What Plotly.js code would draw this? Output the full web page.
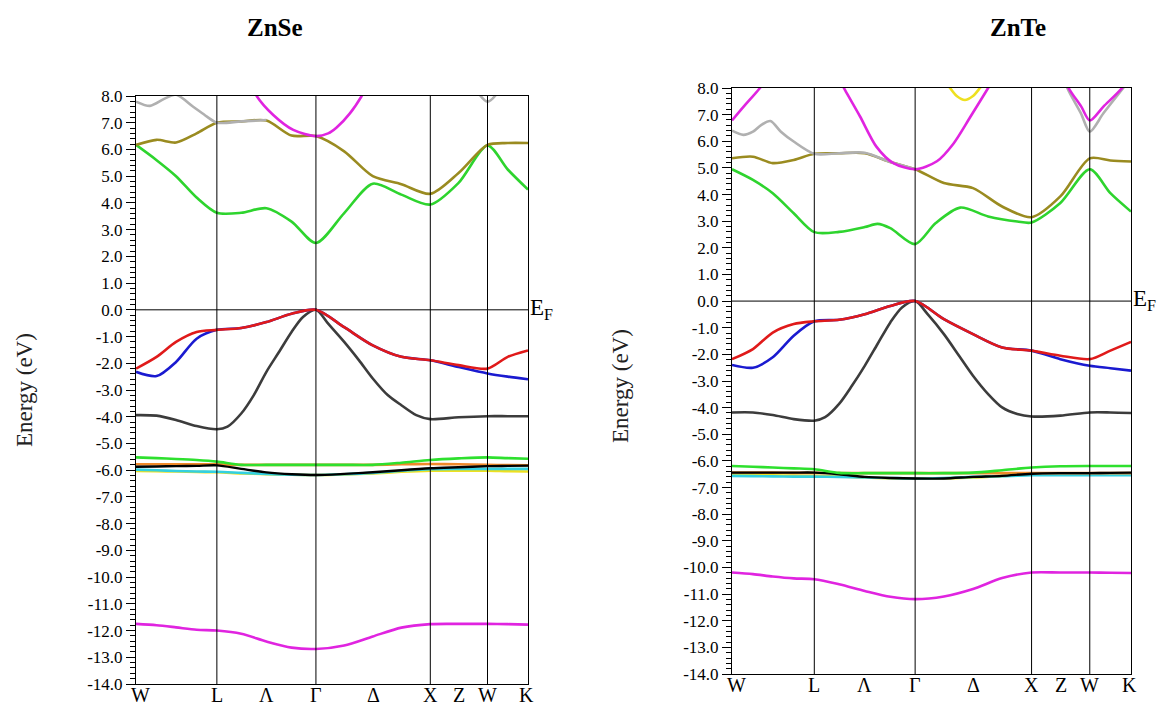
<!DOCTYPE html>
<html>
<head>
<meta charset="utf-8">
<script src="https://cdn.plot.ly/plotly-3.0.1.min.js"></script>
<style>html,body{margin:0;padding:0;background:#fff;}#chart{width:1167px;height:708px;}</style>
</head>
<body>
<div id="chart"></div>
<script>
// ---------- k-path (distance in 2π/a units) ----------
const symLabels = ["W", "L", "Λ", "Γ", "Δ", "X", "Z", "W", "K"];
const symPos = [0, 0.707, 1.14, 1.573, 2.073, 2.573, 2.823, 3.073, 3.427];
const linePos = [0.707, 1.573, 2.573, 3.073];
const kGrid = [0, 0.18, 0.35, 0.53, 0.707, 0.92, 1.14, 1.36, 1.573, 1.82, 2.07, 2.32, 2.573, 2.82, 3.073, 3.25, 3.427];
const kDense = [0, 0.18, 0.35, 0.53, 0.707, 0.8, 0.92, 1.03, 1.14, 1.25, 1.36, 1.46, 1.573, 1.68, 1.82, 1.95, 2.07, 2.2, 2.32, 2.45, 2.573, 2.82, 3.073, 3.25, 3.427];
const yTickVals = [8, 7, 6, 5, 4, 3, 2, 1, 0, -1, -2, -3, -4, -5, -6, -7, -8, -9, -10, -11, -12, -13, -14];
const yTickText = ["8.0", "7.0", "6.0", "5.0", "4.0", "3.0", "2.0", "1.0", "0.0", "-1.0", "-2.0", "-3.0", "-4.0", "-5.0", "-6.0", "-7.0", "-8.0", "-9.0", "-10.0", "-11.0", "-12.0", "-13.0", "-14.0"];

// ---------- ZnSe ----------
const znse_s = [-11.75, -11.8, -11.88, -11.97, -12.0, -12.12, -12.41, -12.64, -12.69, -12.56, -12.22, -11.89, -11.76, -11.75, -11.75, -11.76, -11.78];
const znse_dYellow = [-6.03, -6.04, -6.05, -6.07, -6.08, -6.12, -6.15, -6.17, -6.18, -6.16, -6.12, -6.06, -6.02, -6.02, -6.02, -6.04, -6.05];
const znse_dCyan = [-5.98, -6.0, -6.03, -6.05, -6.06, -6.1, -6.14, -6.17, -6.18, -6.15, -6.1, -6.02, -5.96, -5.95, -5.95, -5.95, -5.95];
const znse_dOrange = [-5.78, -5.78, -5.78, -5.78, -5.78, -5.8, -5.8, -5.8, -5.8, -5.8, -5.8, -5.78, -5.77, -5.78, -5.8, -5.81, -5.82];
const znse_dBlack = [-5.87, -5.86, -5.85, -5.84, -5.82, -5.95, -6.08, -6.15, -6.18, -6.14, -6.08, -6.0, -5.93, -5.89, -5.85, -5.84, -5.83];
const znse_dGreen = [-5.52, -5.55, -5.58, -5.62, -5.68, -5.8, -5.8, -5.8, -5.8, -5.8, -5.8, -5.72, -5.62, -5.56, -5.52, -5.55, -5.57];
const znse_v3 = [-3.94, -3.96, -4.12, -4.35, -4.47, -4.37, -3.88, -3.19, -2.32, -1.58, -0.83, -0.27, 0, -0.52, -1.2, -1.89, -2.57, -3.19, -3.57, -3.94, -4.09, -4.02, -3.98, -3.98, -3.98];
const znse_v2 = [-2.32, -2.48, -1.95, -1.08, -0.75, -0.68, -0.46, -0.15, 0, -0.65, -1.33, -1.76, -1.89, -2.14, -2.38, -2.5, -2.6];
const znse_v1 = [-2.2, -1.76, -1.2, -0.83, -0.75, -0.68, -0.46, -0.15, 0, -0.65, -1.33, -1.76, -1.89, -2.07, -2.2, -1.76, -1.52];
const znse_c1 = [6.17, 5.6, 5.0, 4.2, 3.63, 3.63, 3.8, 3.3, 2.5, 3.62, 4.72, 4.31, 3.94, 4.75, 6.15, 5.25, 4.5];
const znse_c2 = [6.17, 6.36, 6.26, 6.6, 7.0, 7.05, 7.08, 6.52, 6.5, 5.93, 5.0, 4.7, 4.34, 5.12, 6.17, 6.24, 6.24];
const znse_c3K = [0, 0.122, 0.25, 0.35, 0.5, 0.62, 0.707, 0.92, 1.14, null, 2.98, 3.013, 3.073, 3.138, 3.17];
const znse_c3 = [7.79, 7.63, 7.9, 8.05, 7.6, 7.23, 7.0, 7.05, 7.1, null, 8.3, 8.0, 7.79, 8.0, 8.3];
const znse_c4K = [0.95, 1.055, 1.2, 1.375, 1.573, 1.68, 1.754, 1.87, 1.973, 2.07];
const znse_c4 = [9.0, 8.0, 7.29, 6.73, 6.5, 6.6, 6.82, 7.35, 8.0, 8.8];

// ---------- ZnTe ----------
const znte_s = [-10.19, -10.25, -10.34, -10.41, -10.44, -10.63, -10.88, -11.1, -11.19, -11.09, -10.81, -10.4, -10.19, -10.19, -10.19, -10.2, -10.21];
const znte_dYellow = [-6.52, -6.53, -6.54, -6.55, -6.56, -6.58, -6.62, -6.65, -6.66, -6.65, -6.62, -6.56, -6.5, -6.5, -6.5, -6.5, -6.5];
const znte_dCyan = [-6.56, -6.57, -6.58, -6.59, -6.59, -6.6, -6.62, -6.64, -6.66, -6.64, -6.6, -6.57, -6.54, -6.54, -6.54, -6.54, -6.54];
const znte_dOrange = [-6.44, -6.44, -6.44, -6.45, -6.45, -6.46, -6.46, -6.46, -6.46, -6.46, -6.46, -6.46, -6.46, -6.46, -6.46, -6.46, -6.46];
const znte_dBlack = [-6.44, -6.44, -6.44, -6.44, -6.44, -6.5, -6.6, -6.64, -6.66, -6.66, -6.6, -6.56, -6.48, -6.46, -6.46, -6.45, -6.44];
const znte_dGreen = [-6.19, -6.22, -6.25, -6.28, -6.31, -6.45, -6.46, -6.46, -6.46, -6.46, -6.44, -6.35, -6.25, -6.2, -6.19, -6.19, -6.19];
const znte_v3 = [-4.18, -4.18, -4.28, -4.43, -4.49, -4.36, -3.86, -3.18, -2.43, -1.61, -0.8, -0.24, 0, -0.49, -1.24, -2.05, -2.8, -3.49, -3.99, -4.24, -4.33, -4.3, -4.18, -4.18, -4.2];
const znte_v2 = [-2.4, -2.5, -2.11, -1.3, -0.76, -0.7, -0.49, -0.18, 0, -0.68, -1.24, -1.74, -1.86, -2.18, -2.43, -2.52, -2.61];
const znte_v1 = [-2.18, -1.8, -1.18, -0.86, -0.76, -0.7, -0.49, -0.18, 0, -0.68, -1.24, -1.74, -1.86, -2.05, -2.18, -1.86, -1.53];
const znte_c1K = [0, 0.18, 0.35, 0.53, 0.707, 0.92, 1.14, 1.25, 1.36, 1.573, 1.75, 1.96, 2.2, 2.45, 2.573, 2.82, 3.073, 3.25, 3.427];
const znte_c1 = [4.95, 4.55, 4.05, 3.3, 2.59, 2.6, 2.78, 2.9, 2.74, 2.14, 2.93, 3.51, 3.18, 2.99, 2.95, 3.68, 4.95, 4.05, 3.36];
const znte_c2 = [5.36, 5.42, 5.18, 5.3, 5.53, 5.55, 5.55, 5.22, 4.95, 4.43, 4.24, 3.55, 3.15, 3.93, 5.36, 5.28, 5.24];
const znte_c3K = [0, 0.097, 0.18, 0.25, 0.33, 0.42, 0.53, 0.707, 0.92, 1.14, 1.36, 1.573, null, 2.82, 2.88, 2.997, 3.073, 3.19, 3.36, 3.427];
const znte_c3 = [6.4, 6.24, 6.36, 6.61, 6.76, 6.36, 5.99, 5.53, 5.55, 5.57, 5.22, 4.95, null, 8.8, 8.0, 7.05, 6.36, 7.05, 8.0, 8.4];
const znte_c4K = [0, 0.1, 0.24, 0.3, null, 0.9, 0.97, 1.1, 1.24, 1.386, 1.573, 1.76, 1.9, 2.045, 2.2, 2.27, null, 2.82, 2.9, 3.0, 3.073, 3.19, 3.35, 3.42];
const znte_c4 = [6.78, 7.3, 8.0, 8.4, null, 8.5, 7.93, 6.93, 5.8, 5.18, 4.95, 5.25, 5.9, 6.9, 8.0, 8.5, null, 8.6, 7.93, 7.3, 6.78, 7.3, 8.0, 8.5];
const znte_c5K = [1.85, 1.873, 1.93, 2.0, 2.07, 2.13, 2.16];
const znte_c5 = [8.15, 8.0, 7.7, 7.55, 7.7, 8.0, 8.15];

// ---------- colours ----------
const C = {
  s: "#e024e0", dYellow: "#eee020", dCyan: "#33d0e0", dOrange: "#f08a2a", dBlack: "#000000",
  dGreen: "#2ee02e", v3: "#3c3c3c", v2: "#1a1ad0", v1: "#e01a1a", c1: "#2ed42e", c2: "#9a8b20",
  c3: "#b0b0b0", c4: "#e024e0", c5: "#eee020"
};

function band(x, y, color, xa, ya, w) {
  return { type: "scatter", mode: "lines", x: x, y: y, xaxis: xa, yaxis: ya,
    line: { color: color, width: w || 2.6, shape: "spline", smoothing: 0.8 },
    connectgaps: false, hoverinfo: "skip", showlegend: false };
}

function panel(d, xa, ya) {
  return [
    band(kGrid, d.s, C.s, xa, ya),
    band(kGrid, d.dYellow, C.dYellow, xa, ya),
    band(kGrid, d.dCyan, C.dCyan, xa, ya),
    band(kGrid, d.dOrange, C.dOrange, xa, ya),
    band(kGrid, d.dBlack, C.dBlack, xa, ya, 2.4),
    band(kGrid, d.dGreen, C.dGreen, xa, ya),
    band(kDense, d.v3, C.v3, xa, ya),
    band(kGrid, d.v2, C.v2, xa, ya),
    band(kGrid, d.v1, C.v1, xa, ya),
    band(d.c1K || kGrid, d.c1, C.c1, xa, ya),
    band(kGrid, d.c2, C.c2, xa, ya),
    band(d.c3K, d.c3, C.c3, xa, ya),
    band(d.c4K, d.c4, C.c4, xa, ya)
  ].concat(d.c5 ? [band(d.c5K, d.c5, C.c5, xa, ya)] : []);
}

const traces = panel({ s: znse_s, dYellow: znse_dYellow, dCyan: znse_dCyan, dOrange: znse_dOrange,
  dBlack: znse_dBlack, dGreen: znse_dGreen, v3: znse_v3, v2: znse_v2, v1: znse_v1,
  c1: znse_c1, c2: znse_c2, c3K: znse_c3K, c3: znse_c3, c4K: znse_c4K, c4: znse_c4 }, "x", "y")
  .concat(panel({ s: znte_s, dYellow: znte_dYellow, dCyan: znte_dCyan, dOrange: znte_dOrange,
  dBlack: znte_dBlack, dGreen: znte_dGreen, v3: znte_v3, v2: znte_v2, v1: znte_v1,
  c1K: znte_c1K, c1: znte_c1, c2: znte_c2, c3K: znte_c3K, c3: znte_c3, c4K: znte_c4K, c4: znte_c4,
  c5K: znte_c5K, c5: znte_c5 }, "x2", "y2"));

const kEnd = symPos[symPos.length - 1];
const serif = "Liberation Serif";

function xAxis(domain, anchor) {
  return { domain: domain, anchor: anchor, range: [0, kEnd], showgrid: false, zeroline: false,
    showline: true, mirror: true, linecolor: "#000", linewidth: 1,
    showticklabels: false, ticks: "", fixedrange: true };
}
function yAxis(domain, anchor) {
  return { domain: domain, anchor: anchor, range: [-14, 8], showgrid: false, zeroline: false,
    showline: true, mirror: true, linecolor: "#000", linewidth: 1,
    tickmode: "array", tickvals: yTickVals, ticktext: yTickText,
    ticks: "outside", ticklen: 9, tickwidth: 1, tickcolor: "#000",
    minor: { tickmode: "linear", tick0: 0, dtick: 0.2, ticks: "outside", ticklen: 5, tickwidth: 1, tickcolor: "#000", showgrid: false },
    tickfont: { family: serif, size: 17, color: "#000" }, fixedrange: true };
}

const shapes = [];
[["x", "y"], ["x2", "y2"]].forEach(function (ax) {
  linePos.forEach(function (k) {
    shapes.push({ type: "line", xref: ax[0], yref: ax[1], x0: k, x1: k, y0: -14, y1: 8,
      line: { color: "#000", width: 1 }, layer: "above" });
  });
  shapes.push({ type: "line", xref: ax[0], yref: ax[1], x0: 0, x1: kEnd, y0: 0, y1: 0,
    line: { color: "#000", width: 1 }, layer: "below" });
});

const annotations = [
  { xref: "paper", yref: "paper", x: 275 / 1167, y: 1 - 28 / 708, text: "<b>ZnSe</b>", showarrow: false,
    font: { family: serif, size: 25, color: "#000" }, xanchor: "center", yanchor: "middle" },
  { xref: "paper", yref: "paper", x: 1018 / 1167, y: 1 - 28 / 708, text: "<b>ZnTe</b>", showarrow: false,
    font: { family: serif, size: 25, color: "#000" }, xanchor: "center", yanchor: "middle" },
  { xref: "paper", yref: "paper", x: 24 / 1167, y: 1 - 390 / 708, text: "Energy (eV)", textangle: -90, showarrow: false,
    font: { family: serif, size: 23, color: "#222" }, xanchor: "center", yanchor: "middle" },
  { xref: "paper", yref: "paper", x: 620 / 1167, y: 1 - 386 / 708, text: "Energy (eV)", textangle: -90, showarrow: false,
    font: { family: serif, size: 23, color: "#222" }, xanchor: "center", yanchor: "middle" },
  { xref: "x", yref: "y", x: kEnd, y: 0, text: "E<sub>F</sub>", showarrow: false, xanchor: "left", yanchor: "middle",
    xshift: 0, yshift: 1, font: { family: serif, size: 23, color: "#000" } },
  { xref: "x2", yref: "y2", x: kEnd, y: 0, text: "E<sub>F</sub>", showarrow: false, xanchor: "left", yanchor: "middle",
    xshift: 0, yshift: 1, font: { family: serif, size: 23, color: "#000" } }
];
// k-point labels under each panel
[["x", "y"], ["x2", "y2"]].forEach(function (ax) {
  symLabels.forEach(function (lab, i) {
    annotations.push({ xref: ax[0], yref: ax[1], x: symPos[i], y: -14, text: lab, showarrow: false,
      xanchor: "center", yanchor: "top", yshift: 2, xshift: (i === 0 ? 4 : (i === symLabels.length - 1 ? -2 : 0)),
      font: { family: serif, size: 20, color: "#000" } });
  });
});

const layout = {
  width: 1167, height: 708, margin: { l: 0, r: 0, t: 0, b: 0 },
  paper_bgcolor: "#fff", plot_bgcolor: "#fff", showlegend: false,
  xaxis: xAxis([136 / 1167, 528 / 1167], "y"),
  yaxis: yAxis([(708 - 684) / 708, (708 - 96) / 708], "x"),
  xaxis2: xAxis([732 / 1167, 1131 / 1167], "y2"),
  yaxis2: yAxis([(708 - 674) / 708, (708 - 88) / 708], "x2"),
  shapes: shapes, annotations: annotations
};

Plotly.newPlot("chart", traces, layout, { staticPlot: true, displayModeBar: false });
</script>
</body>
</html>
